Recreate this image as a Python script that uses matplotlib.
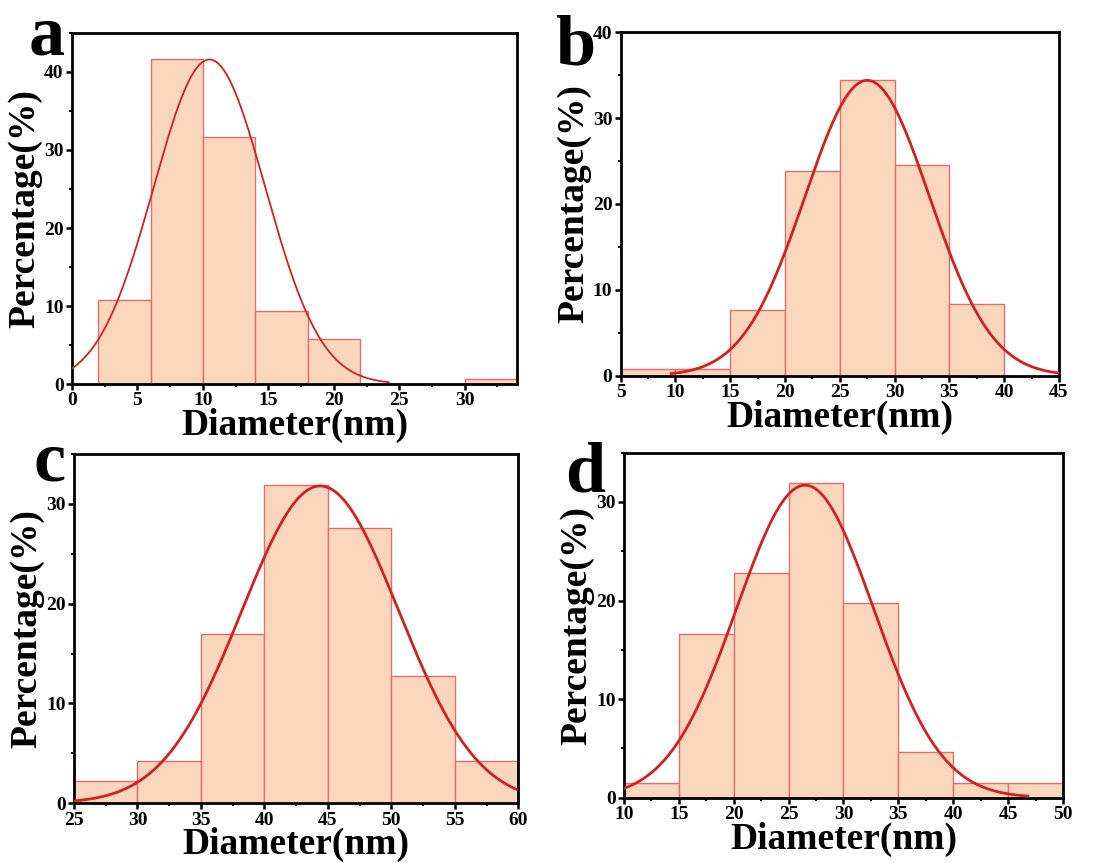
import numpy as np
import matplotlib
matplotlib.use('Agg')
from matplotlib import pyplot as plt
from matplotlib.ticker import MultipleLocator, AutoMinorLocator

plt.rcParams['font.family'] = ['Liberation Serif', 'DejaVu Serif']
plt.rcParams['font.weight'] = 'bold'

# panel a
edges_a = [2, 6, 10, 14, 18, 22, 26, 30, 34]
pct_a = [10.8, 41.7, 31.7, 9.3, 5.8, 0, 0, 0.7]
fit_a = dict(center=10.5, sigma=4.26, amp=41.6, x0=0, x1=24.2)

# panel b
edges_b = [5, 10, 15, 20, 25, 30, 35, 40]
pct_b = [0.8, 0.8, 7.6, 23.8, 34.4, 24.5, 8.4]
fit_b = dict(center=27.5, sigma=5.68, amp=34.4, x0=9.6, x1=45)

# panel c
edges_c = [25, 30, 35, 40, 45, 50, 55, 60]
pct_c = [2.2, 4.2, 17.0, 31.9, 27.6, 12.8, 4.2]
fit_c = dict(center=44.4, sigma=6.18, amp=31.8, x0=25, x1=60)

# panel d
edges_d = [10, 15, 20, 25, 30, 35, 40, 45, 50]
pct_d = [1.5, 16.6, 22.8, 31.9, 19.7, 4.6, 1.5, 1.5]
fit_d = dict(center=26.5, sigma=6.23, amp=31.7, x0=10, x1=46.8)

panels = [
    ('a', edges_a, pct_a, fit_a, (0, 34), (0, 45), [0.0651, 0.555, 0.4024, 0.4068], 1.3, (0.026, 0.937)),
    ('b', edges_b, pct_b, fit_b, (5, 45), (0, 40), [0.5612, 0.5647, 0.3963, 0.3979], 2.0, (0.502, 0.925)),
    ('c', edges_c, pct_c, fit_c, (25, 60), (0, 35), [0.0669, 0.0692, 0.4017, 0.4047], 2.0, (0.030, 0.443)),
    ('d', edges_d, pct_d, fit_d, (10, 50), (0, 35), [0.5642, 0.0757, 0.3969, 0.3998], 2.0, (0.511, 0.430)),
]

fig = plt.figure(figsize=(11.06, 8.63), dpi=100)

for letter, edges, pct, fit, xl, yl, pos, lw, lpos in panels:
    ax = fig.add_axes(pos)
    edges = np.array(edges)
    ax.bar(edges[:-1], pct, width=np.diff(edges), align='edge',
           color='#FAD6BC', edgecolor='#E0706A', linewidth=1.0, zorder=1)
    # normal-distribution fit drawn over the histogram
    xs = np.linspace(fit['x0'], fit['x1'], 300)
    ys = fit['amp'] * np.exp(-(xs - fit['center']) ** 2 / (2 * fit['sigma'] ** 2))
    ax.plot(xs, ys, color='#D42020', lw=lw, zorder=3)
    ax.set_xlim(*xl)
    ax.set_ylim(*yl)
    ax.xaxis.set_major_locator(MultipleLocator(5))
    ax.yaxis.set_major_locator(MultipleLocator(10))
    ax.xaxis.set_minor_locator(AutoMinorLocator(2))
    ax.yaxis.set_minor_locator(AutoMinorLocator(2))
    for s in ax.spines.values():
        s.set_linewidth(2.0)
    ax.tick_params(which='major', direction='out', length=4, width=1.8,
                   labelsize=14, pad=2)
    ax.tick_params(which='minor', direction='out', length=2, width=1.5)
    for t in ax.get_xticklabels() + ax.get_yticklabels():
        t.set_fontweight('bold')
    ax.set_xlabel('Diameter(nm)', fontsize=27, fontweight='bold', labelpad=-1)
    ax.set_ylabel('Percentage(%)', fontsize=27, fontweight='bold', labelpad=1)
    fig.text(lpos[0], lpos[1], letter, fontsize=52, fontweight='bold', va='baseline')

fig.savefig('out.png', dpi=100)
